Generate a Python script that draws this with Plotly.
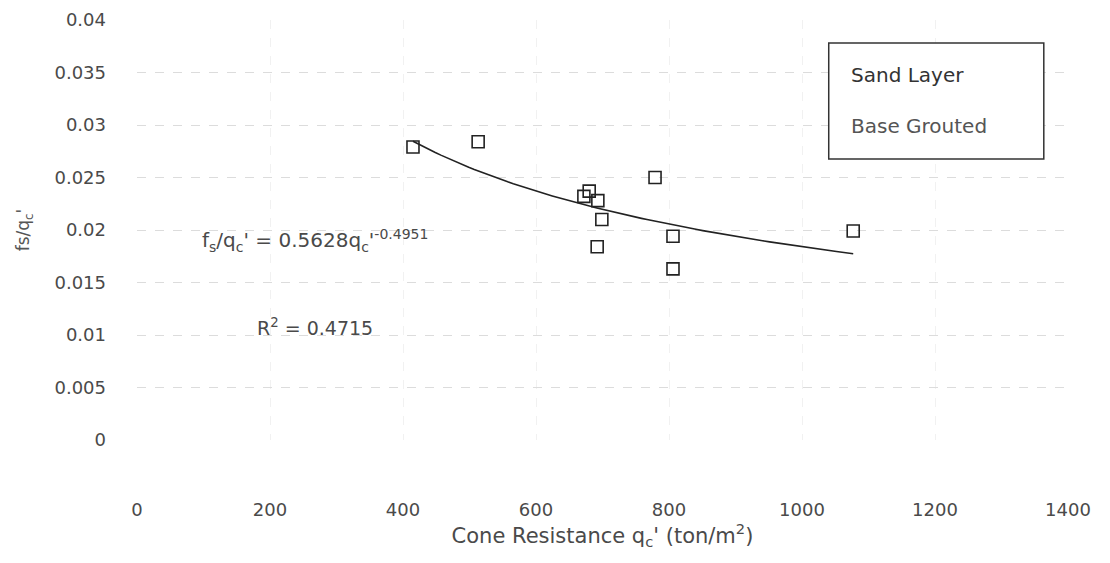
import numpy as np
import plotly.graph_objects as go

# Data
qc = [415, 513, 672, 680, 693, 699, 692, 779, 806, 806, 1077]
fs_qc = [0.0279, 0.0284, 0.0232, 0.0237, 0.0228, 0.0210, 0.0184, 0.0250, 0.0194, 0.0163, 0.0199]

# Power trendline coefficients (from chart label)
coef_a = 0.5628
coef_b = -0.4951
trend_x = np.linspace(min(qc), max(qc), 80)
trend_y = coef_a * trend_x ** coef_b

x_ticks = [0, 200, 400, 600, 800, 1000, 1200, 1400]
y_ticks = [0, 0.005, 0.01, 0.015, 0.02, 0.025, 0.03, 0.035, 0.04]
y_tick_text = ["0", "0.005", "0.01", "0.015", "0.02", "0.025", "0.03", "0.035", "0.04"]

FONT = "DejaVu Sans, Liberation Sans, Arial, sans-serif"
TXT = "#4a4a4a"

fig = go.Figure()
fig.add_trace(go.Scatter(x=trend_x, y=trend_y, mode="lines",
                         line=dict(color="#222222", width=1.6),
                         showlegend=False, hoverinfo="skip"))
fig.add_trace(go.Scatter(x=qc, y=fs_qc, mode="markers",
                         marker=dict(symbol="square-open", size=12,
                                     color="#222222", line=dict(width=1.6, color="#222222")),
                         showlegend=False))

fig.update_layout(
    width=1110, height=563,
    margin=dict(l=137, r=42, t=20, b=123, autoexpand=False),
    paper_bgcolor="white", plot_bgcolor="white",
    font=dict(family=FONT, size=18, color=TXT),
    xaxis=dict(range=[0, 1400], tickvals=x_ticks, showline=False, zeroline=False,
               automargin=False,
               showgrid=True, gridcolor="#f1f1f1", griddash="dash", gridwidth=1,
               ticks="", ticklabelstandoff=57,
               tickfont=dict(size=18, color=TXT, family=FONT),
               title=dict(text="Cone Resistance q<sub>c</sub>' (ton/m<sup>2</sup>)",
                          font=dict(size=21, color=TXT, family=FONT), standoff=2)),
    yaxis=dict(range=[0, 0.04], tickvals=y_ticks, ticktext=y_tick_text,
               showline=False, zeroline=False, automargin=False,
               showgrid=True, gridcolor="#dcdcdc", griddash="dash", gridwidth=1,
               ticks="", ticklabelstandoff=30,
               tickfont=dict(size=18, color=TXT, family=FONT),
               title=dict(text="fs/q<sub>c</sub>'", font=dict(size=17, color="#555555", family=FONT),
                          standoff=20)),
)

# legend-like box
fig.add_shape(type="rect", xref="paper", yref="paper",
              x0=0.743, x1=0.974, y0=0.669, y1=0.945,
              line=dict(color="#333333", width=1.5), fillcolor="white", layer="above")
fig.add_annotation(xref="paper", yref="paper", x=0.765, y=0.868, xanchor="left",
                   yanchor="middle", showarrow=False, text="Sand Layer",
                   font=dict(size=20, color="#333333", family=FONT))
fig.add_annotation(xref="paper", yref="paper", x=0.765, y=0.748, xanchor="left",
                   yanchor="middle", showarrow=False, text="Base Grouted",
                   font=dict(size=20, color="#555555", family=FONT))

# equation and R^2
fig.add_annotation(xref="paper", yref="paper", x=(200 - 137) / 931, y=(440 - 240) / 420,
                   xanchor="left", yanchor="middle", showarrow=False,
                   text="f<sub>s</sub>/q<sub>c</sub>' = 0.5628q<sub>c</sub>'<sup><span style='font-size:14px'>-0.4951</span></sup>",
                   font=dict(size=20, color=TXT, family=FONT))
fig.add_annotation(xref="paper", yref="paper", x=(255 - 137) / 931, y=(440 - 327) / 420,
                   xanchor="left", yanchor="middle", showarrow=False,
                   text="R<sup>2</sup> = 0.4715",
                   font=dict(size=19, color=TXT, family=FONT))

fig.write_html("out.html")
